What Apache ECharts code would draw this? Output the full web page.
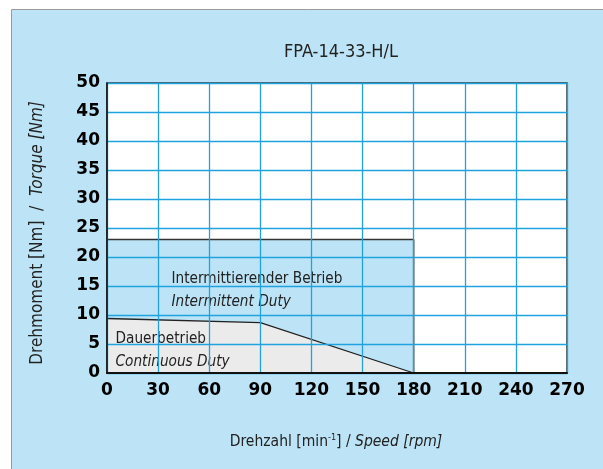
<!DOCTYPE html>
<html>
<head>
<meta charset="utf-8">
<script src="https://cdn.jsdelivr.net/npm/echarts@6/dist/echarts.min.js"></script>
<style>
html,body{margin:0;padding:0;background:#fff;}
#c{width:603px;height:469px;}
</style>
</head>
<body>
<div id="c"></div>
<script>
// Data
var title = 'FPA-14-33-H/L';
var xTicks = [0, 30, 60, 90, 120, 150, 180, 210, 240, 270];
var yTicks = [0, 5, 10, 15, 20, 25, 30, 35, 40, 45, 50];
var intermittentDuty = [[0, 23], [180, 23], [180, 0]];
var continuousDuty = [[0, 9.4], [90, 8.7], [180, 0]];
var intermittentLabel = ['Intermittierender Betrieb', 'Intermittent Duty'];
var continuousLabel = ['Dauerbetrieb', 'Continuous Duty'];
var intermittentLabelPos = [[37.6, 16.2], [37.6, 12.2]];
var continuousLabelPos = [[4.7, 5.9], [4.7, 1.9]];

var condensed = '"Liberation Sans Narrow","DejaVu Sans Condensed","Noto Sans",sans-serif';
var boldFont = '"DejaVu Sans",sans-serif';

var chart = echarts.init(document.getElementById('c'));

function labelPoints(texts, pos) {
  return texts.map(function (t, i) {
    return {
      coord: pos[i],
      symbol: 'rect', symbolSize: 1,
      itemStyle: { color: 'rgba(0,0,0,0)' },
      label: {
        show: true, position: 'right', distance: 0,
        formatter: t,
        color: '#222', fontSize: 15.2, fontFamily: condensed,
        fontStyle: i === 1 ? 'italic' : 'normal'
      }
    };
  });
}

chart.setOption({
  animation: false,
  graphic: [{
    type: 'rect', z: -10, silent: true,
    shape: { x: 11.5, y: 9.5, width: 600, height: 470 },
    style: { fill: '#BDE4F6', stroke: '#9a9a9a', lineWidth: 1 }
  }],
  title: {
    text: title, left: 336, top: 38, textAlign: 'center',
    textStyle: { fontFamily: condensed, fontSize: 18, fontWeight: 'normal', color: '#222' }
  },
  grid: {
    left: 107, top: 83, width: 460, height: 290,
    show: true, backgroundColor: '#fff', borderColor: '#333', borderWidth: 1.5
  },
  xAxis: {
    type: 'value', min: 0, max: 270, interval: 30, z: 5,
    name: '{n|Drehzahl [min}{s|-1}{n|] / }{i|Speed [rpm]}',
    nameLocation: 'middle', nameGap: 60,
    nameTextStyle: {
      padding: [0, 2, 0, 0],
      rich: {
        n: { fontFamily: condensed, fontSize: 15.5, color: '#222' },
        s: { fontFamily: condensed, fontSize: 9, color: '#222', verticalAlign: 'top', padding: [0, 0, 8, 0] },
        i: { fontFamily: condensed, fontSize: 15.5, color: '#222', fontStyle: 'italic' }
      }
    },
    axisLine: { show: true, lineStyle: { color: '#111', width: 2 } },
    axisTick: { show: false },
    axisLabel: { margin: 9, color: '#000', fontSize: 17, fontWeight: 'bold', fontFamily: boldFont,
      formatter: function (v) { return xTicks.indexOf(v) >= 0 ? String(v) : ''; } },
    splitLine: { show: true, lineStyle: { color: '#1FA2DE', width: 1.3 } }
  },
  yAxis: {
    type: 'value', min: 0, max: 50, interval: 5, z: 5,
    name: '{n|Drehmoment [Nm]  /  }{i|Torque [Nm]}',
    nameLocation: 'middle', nameGap: 61, nameRotate: 90,
    nameTextStyle: {
      padding: [0, 10, 0, 0],
      rich: {
        n: { fontFamily: condensed, fontSize: 17, color: '#222' },
        i: { fontFamily: condensed, fontSize: 17, color: '#222', fontStyle: 'italic' }
      }
    },
    axisLine: { show: true, lineStyle: { color: '#111', width: 1.5 } },
    axisTick: { show: false },
    axisLabel: { margin: 7, color: '#000', fontSize: 17, fontWeight: 'bold', fontFamily: boldFont,
      formatter: function (v) { return yTicks.indexOf(v) >= 0 ? String(v) : ''; } },
    splitLine: { show: true, lineStyle: { color: '#1FA2DE', width: 1.3 } }
  },
  series: [{
    type: 'line', name: 'Intermittent', data: intermittentDuty, z: 2,
    symbol: 'none', lineStyle: { color: '#333', width: 1.5 },
    areaStyle: { color: '#BDE4F6', opacity: 1 },
    markPoint: { z: 3, data: labelPoints(intermittentLabel, intermittentLabelPos) }
  }, {
    type: 'line', name: 'Continuous', data: continuousDuty, z: 3,
    symbol: 'none', lineStyle: { color: '#222', width: 1.3 },
    areaStyle: { color: '#EBEBEB', opacity: 1 },
    markPoint: { z: 4, data: labelPoints(continuousLabel, continuousLabelPos) }
  }]
});
</script>
</body>
</html>
